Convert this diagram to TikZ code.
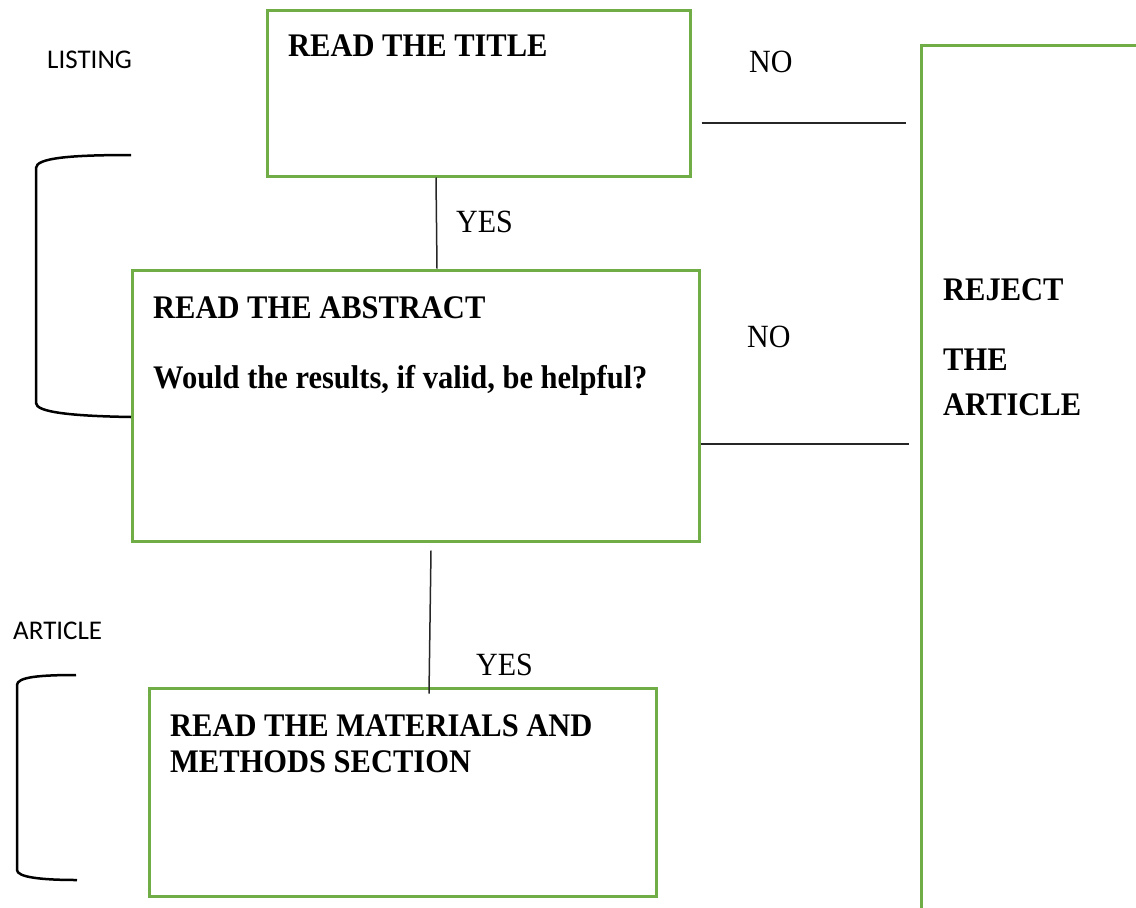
\documentclass[tikz,border=0pt]{standalone}
\usepackage{fontspec}
\usepackage{graphicx}
\setmainfont{Liberation Serif}
\newfontfamily\labelfont{Carlito}
\definecolor{boxgreen}{HTML}{70AD47}
\newcommand{\tallbox}[1]{\scalebox{1}[1.08]{#1}}
\begin{document}
\begin{tikzpicture}[x=1pt,y=-1pt,
  box/.style={draw=boxgreen,line width=3pt,rectangle,inner sep=0pt},
  btxt/.style={anchor=base west,inner sep=0pt,font=\fontsize{30.5}{36}\selectfont\bfseries},
  rtxt/.style={anchor=base west,inner sep=0pt,font=\fontsize{30}{36}\selectfont},
  stxt/.style={anchor=base west,inner sep=0pt,font=\labelfont\fontsize{27}{32}\selectfont},
  conn/.style={draw=black!85,line width=1.5pt},
  brack/.style={draw=black,line width=2.5pt}]
\useasboundingbox (0,0) rectangle (1136,908);
\clip (0,0) rectangle (1136,908);
% boxes
\node[box,minimum width=423pt,minimum height=166pt] (title) at (478.5,93) {};
\node[box,minimum width=567pt,minimum height=271pt] (abs) at (415.5,405.5) {};
\node[box,minimum width=507pt,minimum height=208pt] (mat) at (402.5,792) {};
\node[box,minimum width=239pt,minimum height=885pt] (rej) at (1040.5,487.5) {};
% texts
\node[btxt] (t1) at (288,56) {\tallbox{READ THE TITLE}};
\node[btxt] (a1) at (153,318) {\tallbox{READ THE ABSTRACT}};
\node[btxt] (a2) at (153,388) {\tallbox{Would the results, if valid, be helpful?}};
\node[btxt] (m1) at (170,736) {\tallbox{READ THE MATERIALS AND}};
\node[btxt] (m2) at (170,772) {\tallbox{METHODS SECTION}};
\node[btxt] (r1) at (943,300) {\tallbox{REJECT}};
\node[btxt] (r2) at (943,370) {\tallbox{THE}};
\node[btxt] (r3) at (943,415) {\tallbox{ARTICLE}};
\node[rtxt] (no1) at (749,72) {\tallbox{NO}};
\node[rtxt] (yes1) at (456,232) {\tallbox{YES}};
\node[rtxt] (no2) at (747,347) {\tallbox{NO}};
\node[rtxt] (yes2) at (476,675) {\tallbox{YES}};
\node[stxt] (lst) at (47,68) {LISTING};
\node[stxt] (art) at (13,639) {ARTICLE};
% connectors
\draw[conn] ([xshift=10pt]title.east |- 0,123) -- ([xshift=-14pt]rej.west |- 0,123);
\draw[conn] (title.south -| 436,0) -- (abs.north -| 437,0);
\draw[conn] (abs.east |- 0,444) -- ([xshift=-11pt]rej.west |- 0,444);
\draw[conn] ([yshift=-8pt]abs.south -| 431,0) -- ([yshift=-7pt]mat.north -| 429,0);
% brackets
\coordinate (b1a) at (131,155);
\coordinate (b1b) at (131,417);
\draw[brack] (b1a) .. controls (70,155) and (36,158) .. (36,168) -- (36,403) .. controls (36,412) and (70,416) .. (b1b);
\coordinate (b2a) at (76,675);
\coordinate (b2b) at (77,880);
\draw[brack] (b2a) .. controls (40,675) and (17,677) .. (17,685) -- (17,870) .. controls (17,877) and (40,880) .. (b2b);
\end{tikzpicture}
\end{document}
